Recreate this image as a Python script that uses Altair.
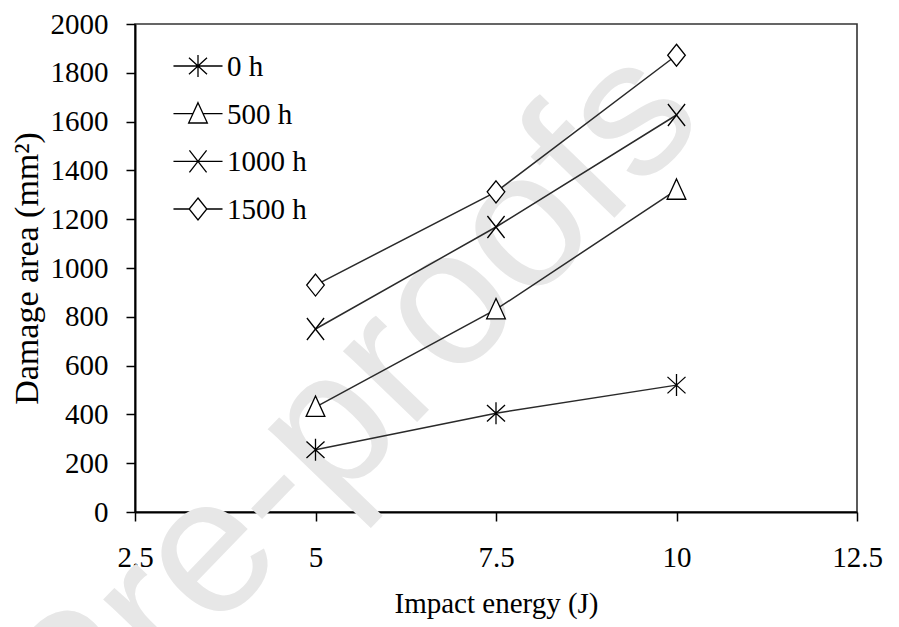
import altair as alt
import pandas as pd

# ---- data ----
energy = [5, 7.5, 10]
series_names = ["0 h", "500 h", "1000 h", "1500 h"]
area_0h = [255, 405, 520]
area_500h = [430, 830, 1320]
area_1000h = [750, 1168, 1627]
area_1500h = [930, 1312, 1872]
x_ticks = [2.5, 5, 7.5, 10, 12.5]
y_ticks = list(range(0, 2001, 200))

rows = []
for name, vals in zip(series_names, [area_0h, area_500h, area_1000h, area_1500h]):
    for e, v in zip(energy, vals):
        rows.append({"energy": e, "area": v, "series": name})
df = pd.DataFrame(rows)
legend_df = pd.DataFrame({"series": series_names})

# marker shapes (custom paths in the -1..1 box)
p_ast = "M0,-1L0,1M-0.82,-0.75L0.82,0.75M-0.82,0.75L0.82,-0.75"
p_tri = "M0,-1L0.85,0.85L-0.85,0.85Z"
p_x = "M-0.78,-1L0.78,1M-0.78,1L0.78,-1"
p_dia = "M0,-1L0.8,0L0,1L-0.8,0Z"
shape_paths = [p_ast, p_tri, p_x, p_dia]

# legend symbols: line + marker
L = 2.23
lg_ast = f"M-{L},0L{L},0" + p_ast
lg_tri = f"M-{L},0L-0.46,0M0.46,0L{L},0" + p_tri
lg_x = f"M-{L},0L{L},0" + p_x
lg_dia = f"M-{L},0L-0.8,0M0.8,0L{L},0" + p_dia
legend_paths = [lg_ast, lg_tri, lg_x, lg_dia]

FONT = "Liberation Serif"

x_enc = alt.X(
    "energy:Q",
    scale=alt.Scale(domain=[2.5, 12.5], nice=False, zero=False),
    axis=alt.Axis(
        values=x_ticks, format=".1~f", title="Impact energy (J)",
        labelPadding=22, titlePadding=17,
        labelFont=FONT, titleFont=FONT,
    ),
)
y_enc = alt.Y(
    "area:Q",
    scale=alt.Scale(domain=[0, 2000], nice=False),
    axis=alt.Axis(
        values=y_ticks, format="d", title="Damage area (mm²)",
        labelPadding=18, titlePadding=6, titleFontSize=34,
        labelFont=FONT, titleFont=FONT,
    ),
)

watermark = alt.Chart(pd.DataFrame({"t": ["Pre-proofs"]})).mark_text(
    font="Liberation Sans", fontSize=194, color="#e7e7e7",
    angle=314, align="center", baseline="middle", clip=False,
).encode(text="t:N", x=alt.value(216), y=alt.value(383))

lines = alt.Chart(df).mark_line(color="#2a2a2a", strokeWidth=1.5).encode(
    x=x_enc, y=y_enc, detail="series:N"
)

points = alt.Chart(df).mark_point(
    fill="white", stroke="black", strokeWidth=1.3, opacity=1, size=484, filled=False
).encode(
    x=x_enc,
    y=y_enc,
    shape=alt.Shape(
        "series:N",
        scale=alt.Scale(domain=series_names, range=shape_paths),
        legend=None,
    ),
)

main = alt.layer(lines, points)

leg_y = alt.Y(
    "series:N",
    scale=alt.Scale(type="point", domain=series_names, range=[42, 185], padding=0),
    axis=None,
)
leg_symbols = alt.Chart(legend_df).mark_point(
    fill="white", stroke="black", strokeWidth=1.3, opacity=1, size=484, filled=False
).encode(
    x=alt.value(63),
    y=leg_y,
    shape=alt.Shape(
        "series:N",
        scale=alt.Scale(domain=series_names, range=legend_paths),
        legend=None,
    ),
)
leg_labels = alt.Chart(legend_df).mark_text(
    font=FONT, fontSize=29, color="black", align="left", baseline="middle", dy=1
).encode(x=alt.value(92), y=leg_y, text="series:N")
legend_layer = alt.layer(leg_symbols, leg_labels)

chart = (
    alt.layer(watermark, main, legend_layer)
    .resolve_scale(y="independent", shape="independent")
    .properties(
        width=722, height=488,
        autosize=alt.AutoSizeParams(type="none"),
        padding={"left": 135, "top": 24, "right": 42, "bottom": 115},
        background="white",
    )
    .configure_view(stroke="#333333", strokeWidth=1.6)
    .configure_axis(
        grid=False, domainColor="black", domainWidth=2, tickColor="black",
        tickWidth=1.5, tickSize=9, labelFont=FONT, labelFontSize=29,
        labelColor="black", titleFont=FONT, titleFontSize=29,
        titleFontWeight="normal", titleColor="black", labelFlush=False,
        labelOverlap=False, zindex=1,
    )
)

chart.save("out.html", embed_options={"renderer": "svg", "actions": False})
